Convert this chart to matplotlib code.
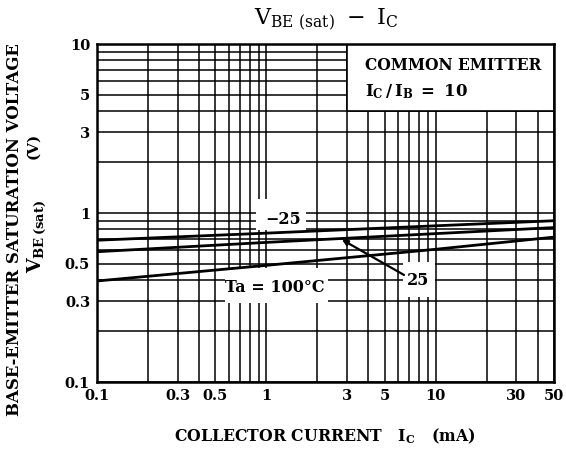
import matplotlib
matplotlib.use("Agg")
import matplotlib.pyplot as plt
from matplotlib.patches import Rectangle
from matplotlib.ticker import FixedLocator, NullFormatter, FixedFormatter

plt.rcParams['mathtext.fontset'] = 'custom'
plt.rcParams['mathtext.rm'] = 'DejaVu Serif'
plt.rcParams['mathtext.bf'] = 'DejaVu Serif:bold'
plt.rcParams['font.family'] = 'DejaVu Serif'

# Data
ic = [0.1, 1, 10, 50]
vbe_m25 = [0.69, 0.76, 0.84, 0.90]
vbe_25 = [0.59, 0.67, 0.755, 0.82]
vbe_100 = [0.396, 0.49, 0.61, 0.72]

x_ticks = [0.1, 0.3, 0.5, 1, 3, 5, 10, 30, 50]
x_labels = ['0.1', '0.3', '0.5', '1', '3', '5', '10', '30', '50']
y_ticks = [0.1, 0.3, 0.5, 1, 3, 5, 10]
y_labels = ['0.1', '0.3', '0.5', '1', '3', '5', '10']
x_minor = [0.2, 0.4, 0.6, 0.7, 0.8, 0.9, 2, 4, 6, 7, 8, 9, 20, 40]
y_minor = [0.2, 0.4, 0.6, 0.7, 0.8, 0.9, 2, 4, 6, 7, 8, 9]

fig = plt.figure(figsize=(5.66, 4.5), dpi=100)
ax = fig.add_axes([97/566, 1-382/450, (554-97)/566, (382-44)/450])
ax.set_xscale('log')
ax.set_yscale('log')
ax.set_xlim(0.1, 50)
ax.set_ylim(0.1, 10)

ax.xaxis.set_major_locator(FixedLocator(x_ticks))
ax.xaxis.set_major_formatter(FixedFormatter(x_labels))
ax.yaxis.set_major_locator(FixedLocator(y_ticks))
ax.yaxis.set_major_formatter(FixedFormatter(y_labels))
ax.xaxis.set_minor_locator(FixedLocator(x_minor))
ax.yaxis.set_minor_locator(FixedLocator(y_minor))
ax.xaxis.set_minor_formatter(NullFormatter())
ax.yaxis.set_minor_formatter(NullFormatter())
ax.tick_params(which='both', length=0, labelsize=10.5, pad=5)
for lab in ax.get_xticklabels() + ax.get_yticklabels():
    lab.set_fontweight('bold')

ax.grid(which='both', color='black', linewidth=1.1, zorder=0.5)
ax.set_axisbelow(True)
for s in ax.spines.values():
    s.set_linewidth(1.8)
    s.set_zorder(5)

# white label boxes breaking the grid
def wbox(x0, x1, y0, y1, edge=False):
    r = Rectangle((x0, y0), x1 - x0, y1 - y0, facecolor='white',
                  edgecolor='black' if edge else 'none', linewidth=1.2, zorder=1.5)
    ax.add_patch(r)

wbox(3, 50, 4, 10, edge=True)
wbox(0.87, 1.72, 0.79, 1.21)
wbox(0.57, 2.31, 0.293, 0.475)
wbox(6.4, 9.9, 0.318, 0.513)

lw = 2.0
ax.plot(ic, vbe_m25, color='black', lw=lw, zorder=3)
ax.plot(ic, vbe_25, color='black', lw=lw, zorder=3)
ax.plot(ic, vbe_100, color='black', lw=lw, zorder=3)

ax.text(1.26, 0.91, '\u221225', fontsize=11.5, fontweight='bold', ha='center', va='center', zorder=4)
ax.text(1.125, 0.36, 'Ta = 100\u00b0C', fontsize=11.5, fontweight='bold', ha='center', va='center', zorder=4)
ax.text(7.9, 0.40, '25', fontsize=11.5, fontweight='bold', ha='center', va='center', zorder=4)
ax.annotate('', xy=(2.8, 0.695), xytext=(6.5, 0.43),
            arrowprops=dict(arrowstyle='-|>', color='black', lw=1.6,
                            mutation_scale=8, shrinkA=0, shrinkB=0), zorder=4)

ax.text((365-97)/457, (382-65)/338, 'COMMON EMITTER', transform=ax.transAxes, fontsize=11.2,
        fontweight='bold', ha='left', va='center', zorder=4)
ax.text((365-97)/457, (382-92)/338, r'$\mathbf{I_C\,/\,I_B\ =\ 10}$', transform=ax.transAxes,
        fontsize=12, ha='left', va='center', zorder=4)

fig.text(326/566, 1-20/450, r'$\mathrm{V_{BE\ (sat)}\ -\ I_C}$', fontsize=16,
         ha='center', va='center')
fig.text(325/566, 1-436/450, r'COLLECTOR CURRENT   $\mathbf{I_C}$   (mA)', fontsize=11.3,
         fontweight='bold', ha='center', va='center')
fig.text(15/566, 1-230/450, 'BASE-EMITTER SATURATION VOLTAGE', fontsize=11.9,
         fontweight='bold', rotation=90, ha='center', va='center')
fig.text(37/566, 1-236/450, r'$\mathbf{V_{BE\,(sat)}}$', fontsize=13.5,
         rotation=90, ha='center', va='center')
fig.text(33/566, 1-146/450, '(V)', fontsize=11,
         fontweight='bold', rotation=90, ha='center', va='center')

fig.savefig('out.png', dpi=100)
